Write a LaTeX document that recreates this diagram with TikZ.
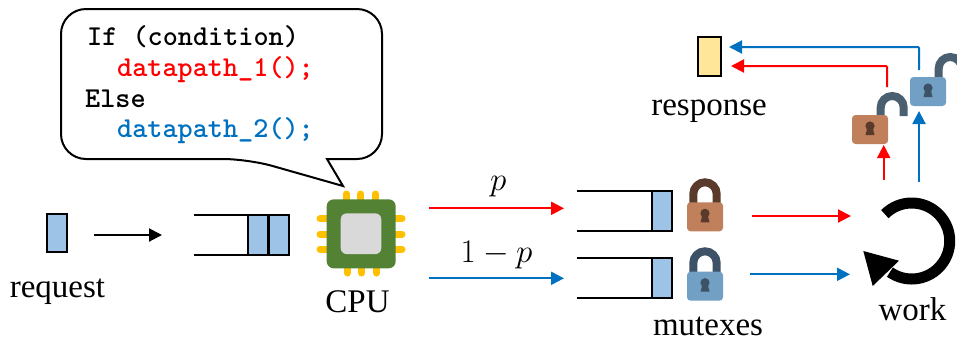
\documentclass[tikz,border=0pt]{standalone}
\usepackage{amsmath,amssymb}
\usepackage{fix-cm}
\usepackage{fontspec}
\setmainfont{Liberation Serif}
\usepackage{tikz}
\usetikzlibrary{calc,positioning,arrows.meta}
\definecolor{pktblue}{HTML}{9DC3E6}
\definecolor{pktyellow}{HTML}{FFE699}
\definecolor{pathred}{HTML}{FF0000}
\definecolor{pathblue}{HTML}{0070C0}
\definecolor{cpugreen}{HTML}{548235}
\definecolor{cpugrey}{HTML}{D9D9D9}
\definecolor{cpupin}{HTML}{FFC000}
\definecolor{lockbrown}{HTML}{C0805C}
\definecolor{lockbrowndark}{HTML}{5A3A2A}
\definecolor{lockblue}{HTML}{729FC4}
\definecolor{lockbluedark}{HTML}{3D5266}
\definecolor{lockopendark}{HTML}{4A6070}
\tikzset{
  pkt/.style={draw=black,line width=2pt,fill=pktblue,minimum width=20pt,minimum height=40pt,inner sep=0pt,outer sep=0pt},
  lab/.style={anchor=base,inner sep=0pt,font=\fontsize{33}{36}\selectfont},
  codeline/.style={anchor=base west,inner sep=0pt,font=\fontsize{28.8}{30}\selectfont\ttfamily\bfseries},
  arr/.style={line width=2pt,->},
  qline/.style={line width=2pt}
}
\begin{document}
\begin{tikzpicture}[x=1pt,y=-1pt,>={Triangle[length=13pt,width=13pt]}]
  \clip (0,0) rectangle (957,341);
  % callout
  \draw[line width=2pt,fill=white,rounded corners=25pt] (327,159) -- (382,159) -- (382,9) -- (61,9) -- (61,159) -- (248,159) [sharp corners] -- (343,186) -- cycle;
  \node[codeline] (c1) at (87,45) {If (condition)};
  \node[codeline,text=pathred] (c2) at (117,76) {datapath\_1();};
  \node[codeline] (c3) at (85,107) {Else};
  \node[codeline,text=pathblue] (c4) at (117,137) {datapath\_2();};
  % request and first queue
  \node[pkt,minimum height=38pt] (req) at (57,232.7) {};
  \node[lab] (reqlab) at (57.5,297) {request};
  \coordinate (reqA) at (94,235);
  \coordinate (reqB) at (162,235);
  \draw[arr,black] (reqA) -- (reqB);
  \coordinate (q0a) at (194,215);
  \coordinate (q0b) at (194,255);
  \node[pkt] (q0p1) at (258.3,235) {};
  \node[pkt] (q0p2) at (278.9,235) {};
  \draw[qline] (q0a) -- (q0p1.north west);
  \draw[qline] (q0b) -- (q0p1.south west);
  % cpu
  \foreach \x in {346.3,360.7,375.3}{
    \draw[cpupin,line width=7pt,line cap=round] (\x,194) -- (\x,205);
  }
  \foreach \x in {347.3,361.7,376.7}{
    \draw[cpupin,line width=7pt,line cap=round] (\x,262) -- (\x,273);
  }
  \foreach \y in {218.7,234,249}{
    \draw[cpupin,line width=7pt,line cap=round] (320,\y) -- (332,\y);
    \draw[cpupin,line width=7pt,line cap=round] (390,\y) -- (402,\y);
  }
  \node[fill=cpugreen,rounded corners=7pt,minimum width=69pt,minimum height=69pt,inner sep=0pt] (cpu) at (361.2,233.8) {};
  \node[fill=cpugrey,rounded corners=6pt,minimum width=40.6pt,minimum height=40.7pt,inner sep=0pt] (core) at (361,233.7) {};
  \node[lab] (cpulab) at (357.5,312) {CPU};
  % two paths into the queues
  \coordinate (pA) at (429,208.3);
  \coordinate (pB) at (564,208.3);
  \coordinate (qA) at (429,278.3);
  \coordinate (qB) at (564,278.3);
  \draw[arr,pathred] (pA) -- (pB);
  \draw[arr,pathblue] (qA) -- (qB);
  \node[lab] (plab) at (498.3,190) {$p$};
  \node[lab] (qlab) at (496.5,262.7) {$1-p$};
  \foreach \n/\yt in {1/190.7,2/258.3}{
    \coordinate (q\n a) at (576.7,\yt);
    \coordinate (q\n b) at (576.7,\yt+40);
    \node[pkt] (q\n p) at (661.8,\yt+20) {};
    \draw[qline] (q\n a) -- (q\n p.north west);
    \draw[qline] (q\n b) -- (q\n p.south west);
  }
  % shackles: x/centre y/left end/right end/r/colour
  \foreach \x/\cy/\yl/\yr/\r/\col in {705/194/206/206/11.7/lockbrowndark,705/263/275/275/11.7/lockbluedark,892.2/107.5/118/116/11.5/lockopendark,950.2/68.5/79/77/11.5/lockopendark}{
    \draw[\col,line width=8pt] ({\x-\r},\yl) -- ({\x-\r},\cy) arc (180:0:\r pt) -- ({\x+\r},\yr);
  }
  % lock bodies with keyholes
  \foreach \x/\yt/\h/\w/\col/\dk in {687/202.3/29/36/lockbrown/lockbrowndark,687/271.7/29/36/lockblue/lockbluedark,852/115/29/36/lockbrown/lockbrowndark,910/77/29/36/lockblue/lockbluedark}{
    \fill[\col,rounded corners=3.5pt] (\x,\yt) rectangle ({\x+\w},{\yt+\h});
    \fill[\dk] ({\x+\w/2},{\yt+11}) circle (4.6pt);
    \fill[\dk] ({\x+\w/2-2.5},{\yt+12}) -- ({\x+\w/2+2.5},{\yt+12}) -- ({\x+\w/2+4.5},{\yt+20}) -- ({\x+\w/2-4.5},{\yt+20}) -- cycle;
  }
  \node[lab] (mutlab) at (708,335) {mutexes};
  % paths into work
  \coordinate (rA) at (751.7,216);
  \coordinate (rB) at (851,216);
  \coordinate (bA) at (750,274.3);
  \coordinate (bB) at (850,274.3);
  \draw[arr,pathred] (rA) -- (rB);
  \draw[arr,pathblue] (bA) -- (bB);
  % work loop
  \coordinate (workc) at (911.7,241);
  \draw[line width=11pt] (workc) ++(135:38pt) arc (135:-125:38pt);
  \coordinate (tipA) at (863.3,251);
  \coordinate (tipB) at (899,260.7);
  \coordinate (tipC) at (872.7,286);
  \fill (tipA) -- (tipB) -- (tipC) -- cycle;
  \node[lab] (worklab) at (912.5,320.7) {work};
  % response
  \node[pkt,fill=pktyellow,minimum width=23pt,minimum height=39pt] (resp) at (709.5,56.5) {};
  \node[lab] (resplab) at (709,115) {response};
  \coordinate (r1) at (883.7,180);
  \coordinate (r2) at (883.7,145);
  \coordinate (b1) at (919,181.7);
  \coordinate (b2) at (919,111);
  \draw[arr,pathred] (r1) -- (r2);
  \draw[arr,pathblue] (b1) -- (b2);
  \coordinate (r3) at (887,87);
  \coordinate (r4) at (731,66);
  \coordinate (b3) at (919,70);
  \coordinate (b4) at (729,47);
  \draw[arr,pathred,rounded corners=1pt] (r3) |- (r4);
  \draw[arr,pathblue,rounded corners=1pt] (b3) |- (b4);
\end{tikzpicture}
\end{document}
